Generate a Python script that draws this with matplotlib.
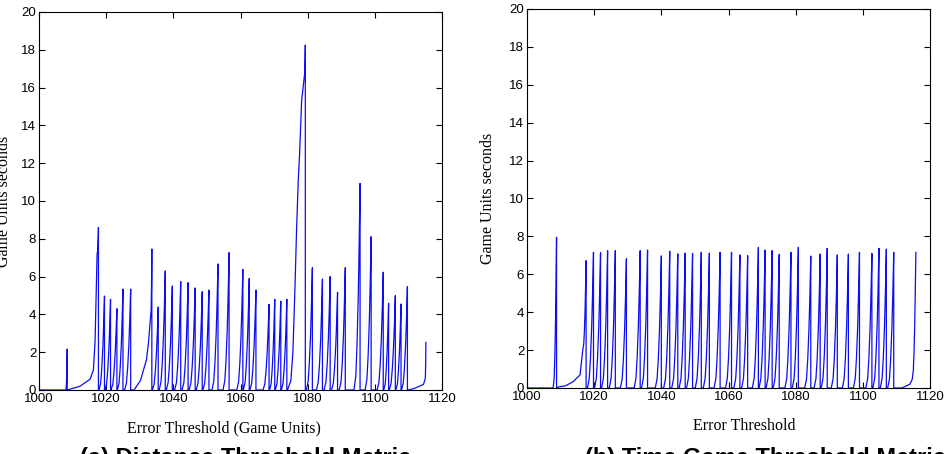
import matplotlib
matplotlib.use("Agg")
import matplotlib.pyplot as plt
import numpy as np


# spike peaks (x = error threshold, y = seconds)

left_peak_x = [1008.4, 1017.7, 1019.5, 1021.3, 1023.2, 1025.0, 1027.3, 1033.6,
               1035.5, 1037.6, 1039.7, 1042.2, 1044.4, 1046.5, 1048.6, 1050.6,
               1053.3, 1056.6, 1060.7, 1062.6, 1064.6, 1068.5, 1070.2, 1072.0,
               1073.8, 1079.3, 1081.4, 1084.4, 1086.7, 1088.9, 1091.2, 1095.6,
               1098.9, 1102.5, 1104.1, 1106.1, 1107.8, 1109.7, 1115.2]
left_peak_y = [2.17, 8.6, 4.97, 4.8, 4.3, 5.34, 5.34, 7.46,
               4.39, 6.3, 5.5, 5.73, 5.68, 5.4, 5.2, 5.29,
               6.67, 7.27, 6.38, 5.9, 5.29, 4.53, 4.8, 4.7,
               4.8, 18.25, 6.47, 5.87, 6.0, 5.17, 6.47, 10.93,
               8.11, 6.23, 4.59, 4.99, 4.55, 5.47, 2.52]

# slow ramps in front of some spikes
left_ramp_x = [1008.0,
               1009.0, 1012.2, 1015.2, 1016.2, 1016.7, 1017.3,
               1028.3, 1030.2, 1032.0, 1032.6, 1033.3,
               1074.0, 1075.0, 1075.6, 1076.2, 1076.7, 1077.2, 1077.6, 1078.2, 1079.0,
               1110.0, 1112.0, 1114.5, 1115.0]
left_ramp_y = [0.0,
               0.03, 0.2, 0.57, 1.06, 2.6, 7.2,
               0.0, 0.5, 1.6, 2.5, 4.0,
               0.0, 0.5, 2.0, 5.3, 8.5, 11.1, 12.5, 15.3, 16.6,
               0.0, 0.1, 0.3, 0.6]

right_peak_x = [1008.8, 1017.6, 1019.8, 1021.9, 1024.0, 1026.3, 1029.6, 1033.7,
                1035.9, 1040.0, 1042.5, 1044.9, 1047.1, 1049.3, 1051.9, 1054.3,
                1057.5, 1060.9, 1063.4, 1065.7, 1068.9, 1070.9, 1073.0, 1075.1,
                1078.6, 1080.8, 1084.5, 1087.3, 1089.4, 1092.4, 1095.7, 1099.0,
                1102.7, 1104.8, 1107.0, 1109.2, 1115.8]
right_peak_y = [7.95, 6.72, 7.16, 7.14, 7.25, 7.25, 6.82, 7.25,
                7.28, 6.97, 7.22, 7.08, 7.12, 7.1, 7.16, 7.12,
                7.16, 7.16, 7.02, 6.98, 7.42, 7.28, 7.25, 7.05,
                7.16, 7.42, 6.96, 7.07, 7.37, 7.02, 7.07, 7.16,
                7.1, 7.37, 7.33, 7.16, 7.16]

right_ramp_x = [1007.8,
                1009.3, 1011.5, 1013.7, 1015.8, 1016.6,
                1111.6, 1114.0, 1114.7]
right_ramp_y = [0.0,
                0.05, 0.12, 0.33, 0.69, 2.0,
                0.0, 0.2, 0.45]

# shape of one rise (fraction of span, fraction of height)
rise_t = [0.3, 0.5, 0.7, 0.85, 1.0]
rise_f = [0.07, 0.22, 0.45, 0.7, 1.0]


def build_line(peak_x, peak_y, ramp_x, ramp_y):
    xs, ys = [1000.0], [0.0]
    prev = 1000.0
    n = len(peak_x)
    for i in range(n):
        px, py = peak_x[i], peak_y[i]
        rx = [(a, b) for a, b in zip(ramp_x, ramp_y) if prev < a < px]
        if rx:
            for a, b in rx:
                xs.append(a)
                ys.append(b)
            start, base = rx[-1]
        else:
            start, base = max(prev + 0.15, px - 1.8), 0.0
            xs.append(start)
            ys.append(0.0)
        for t, f in zip(rise_t, rise_f):
            xs.append(start + t * (px - start))
            ys.append(base + f * (py - base))
        if i < n - 1:
            xs.append(px)
            ys.append(0.0)
        prev = px
    return xs, ys


plt.rcParams['font.family'] = ['Liberation Sans', 'DejaVu Sans']

fig = plt.figure(figsize=(9.44, 4.54), dpi=100)
ax1 = fig.add_axes([39/944, 1-390/454, 403/944, 378/454])
ax2 = fig.add_axes([527/944, 1-388/454, 403/944, 379/454])

for ax, px, py, rx, ry in [(ax1, left_peak_x, left_peak_y, left_ramp_x, left_ramp_y),
                           (ax2, right_peak_x, right_peak_y, right_ramp_x, right_ramp_y)]:
    xs, ys = build_line(px, py, rx, ry)
    ax.plot(xs, ys, color=(0.05, 0.05, 0.95), lw=0.9)
    ax.set_xlim(1000, 1120)
    ax.set_ylim(0, 20)
    ax.set_xticks(np.arange(1000, 1121, 20))
    ax.set_yticks(np.arange(0, 21, 2))
    ax.tick_params(direction='in', top=True, right=True, length=4, width=0.8,
                   labelsize=9.5, pad=2)
    for s in ax.spines.values():
        s.set_linewidth(0.8)
    ax.set_ylabel('Game Units seconds', family='Liberation Serif', fontsize=11.5)

ax1.set_xlabel('Error Threshold (Game Units)', family='Liberation Serif', fontsize=11.5)
ax2.set_xlabel('Error Threshold', family='Liberation Serif', fontsize=11.5)
ax1.xaxis.set_label_coords(0.46, -0.08)
ax2.xaxis.set_label_coords(0.54, -0.08)
ax1.yaxis.set_label_coords(-0.067, 0.5)
ax2.yaxis.set_label_coords(-0.077, 0.5)

fig.text(246/944, 1-447/454, '(a) Distance Threshold Metric', ha='center', va='top',
         fontsize=17, fontweight='bold')
fig.text(765/944, 1-447/454, '(b) Time Game Threshold Metric', ha='center', va='top',
         fontsize=17, fontweight='bold')

fig.savefig('out.png', dpi=100)
